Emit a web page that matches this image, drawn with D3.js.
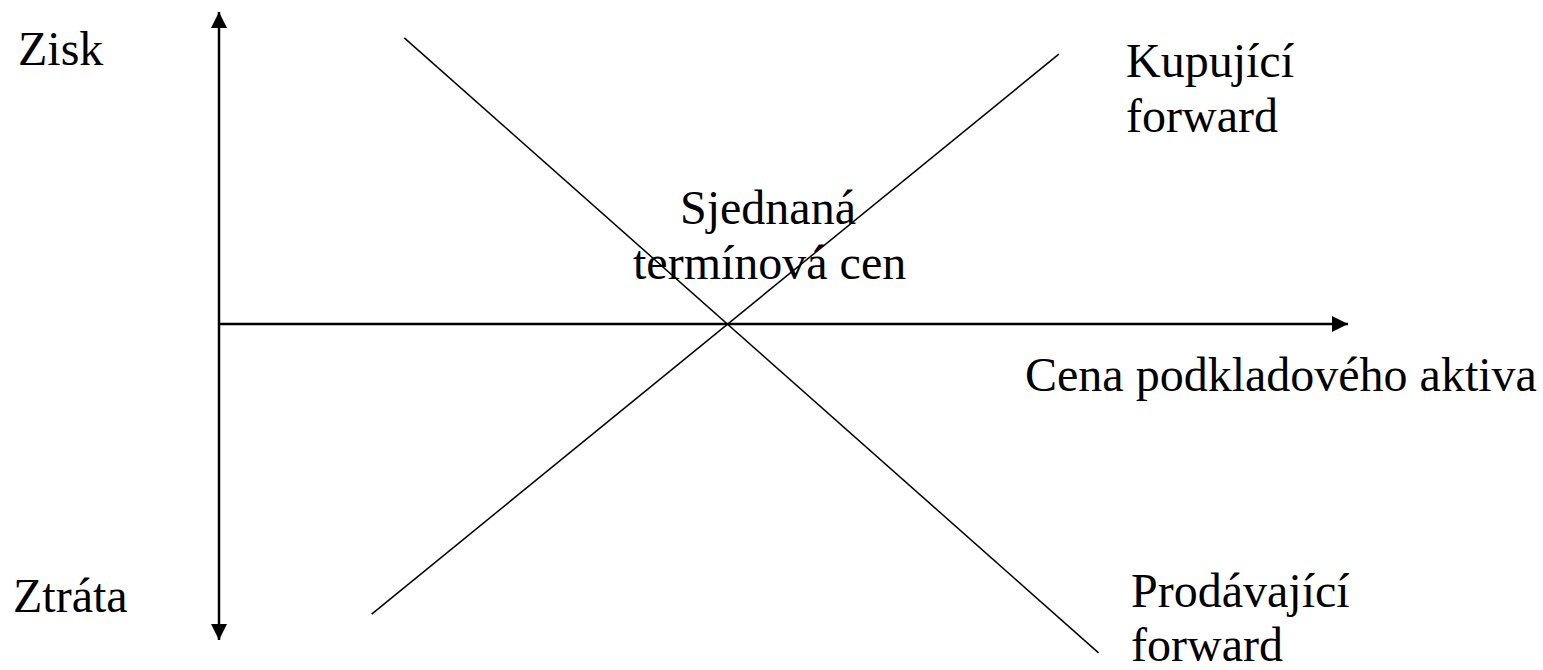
<!DOCTYPE html>
<html>
<head>
<meta charset="utf-8">
<script src="https://cdn.jsdelivr.net/npm/d3@7"></script>
<style>
  body { margin: 0; background: #fff; }
  svg text { font-family: "Liberation Serif", "Times New Roman", serif; font-size: 48px; fill: #000; }
</style>
</head>
<body>
<svg width="1543" height="670"></svg>
<script>
// payoff of a forward contract
// price axis: 0..110, strike (sjednaná cena) at 50
var strike = 50;
var priceAxis = [0, 110.9];      // x extent of the horizontal axis
var profitAxis = [-101.3, 100];  // y extent of the vertical axis (ztráta .. zisk)
var longForward = [{price: 15, pl: -93}, {price: 82.5, pl: 86.5}];     // kupující forward
var shortForward = [{price: 18.2, pl: 91.7}, {price: 86.4, pl: -105.4}]; // prodávající forward

var svg = d3.select("svg");

var x = d3.scaleLinear().domain([0, 100]).range([219, 1237]);
var y = d3.scaleLinear().domain([-100, 100]).range([636, 12]);

// arrow heads
var defs = svg.append("defs");
defs.append("marker")
    .attr("id", "arrow")
    .attr("viewBox", "0 0 10 10")
    .attr("refX", 10).attr("refY", 5)
    .attr("markerUnits", "userSpaceOnUse")
    .attr("markerWidth", 16).attr("markerHeight", 16)
    .attr("orient", "auto")
  .append("path")
    .attr("d", "M0,0L10,5L0,10Z")
    .attr("fill", "#000");

// vertical axis (both directions)
svg.append("line")
    .attr("x1", x(0)).attr("x2", x(0))
    .attr("y1", y(0)).attr("y2", y(profitAxis[1]))
    .attr("stroke", "#000").attr("stroke-width", 2.5)
    .attr("marker-end", "url(#arrow)");
svg.append("line")
    .attr("x1", x(0)).attr("x2", x(0))
    .attr("y1", y(0)).attr("y2", y(profitAxis[0]))
    .attr("stroke", "#000").attr("stroke-width", 2.5)
    .attr("marker-end", "url(#arrow)");

// horizontal axis
svg.append("line")
    .attr("x1", x(priceAxis[0]) - 1).attr("x2", x(priceAxis[1]))
    .attr("y1", y(0)).attr("y2", y(0))
    .attr("stroke", "#000").attr("stroke-width", 2.5)
    .attr("marker-end", "url(#arrow)");

var line = d3.line()
    .x(function(d) { return x(d.price); })
    .y(function(d) { return y(d.pl); });

svg.append("path")
    .datum(longForward)
    .attr("d", line)
    .attr("fill", "none").attr("stroke", "#000").attr("stroke-width", 1.5);

svg.append("path")
    .datum(shortForward)
    .attr("d", line)
    .attr("fill", "none").attr("stroke", "#000").attr("stroke-width", 1.5);

// labels
var labels = [
  {t: "Zisk", x: 18, y: 65},
  {t: "Ztráta", x: 13, y: 612},
  {t: "Kupující", x: 1126, y: 77},
  {t: "forward", x: 1126, y: 132},
  {t: "Sjednaná", x: 680, y: 224},
  {t: "termínová cen", x: 633, y: 279},
  {t: "Cena podkladového aktiva", x: 1025, y: 391},
  {t: "Prodávající", x: 1131, y: 607},
  {t: "forward", x: 1131, y: 661}
];

svg.selectAll(".lbl")
  .data(labels)
  .enter().append("text")
    .attr("class", "lbl")
    .attr("x", function(d) { return d.x; })
    .attr("y", function(d) { return d.y; })
    .text(function(d) { return d.t; });
</script>
</body>
</html>
